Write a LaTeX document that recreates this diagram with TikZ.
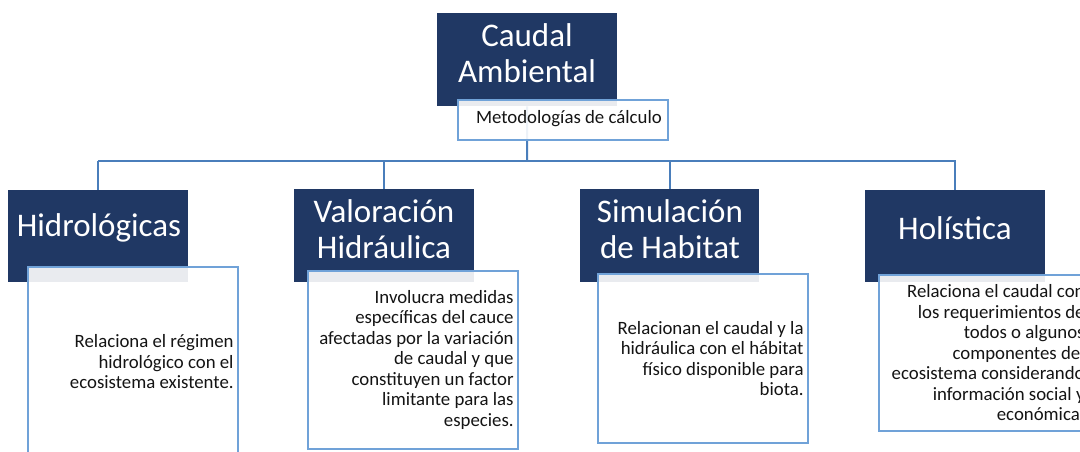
\documentclass[tikz,border=0pt]{standalone}
\usepackage{fontspec}
\setmainfont{Carlito}
\definecolor{navy}{RGB}{32,56,100}
\definecolor{linkblue}{RGB}{74,126,187}
\definecolor{boxblue}{RGB}{112,162,216}
\definecolor{txt}{RGB}{20,20,20}
\tikzset{
  titlebox/.style={fill=navy, draw=none},
  descbox/.style={fill=white, fill opacity=0.9, draw=boxblue, draw opacity=1, line width=1.8pt},
  titletext/.style={text=white, font=\fontsize{33}{35.5}\selectfont, align=center, inner sep=0pt},
  desctext/.style={text=txt, font=\fontsize{18.8}{20.5}\selectfont, align=right, inner sep=0pt, anchor=east},
  link/.style={draw=linkblue, line width=2pt},
}
\begin{document}
\begin{tikzpicture}[x=1pt,y=-1pt]
\useasboundingbox[fill=white] (0,0) rectangle (1080,452);
\begin{scope}
\clip (0,0) rectangle (1080,452);
% top
\node[titlebox, minimum width=180, minimum height=93, anchor=north west, inner sep=0pt] (top) at (437,13) {};
\node[titletext] (toptxt) at (527,53) {Caudal\\Ambiental};
% connectors
\coordinate (hub) at (527,161);
\coordinate (h1) at (98,161);
\coordinate (h4) at (956,161);
\draw[link] (top.south) -- (hub);
\draw[link] (h1) -- (h4);
% title boxes
\node[titlebox, minimum width=180, minimum height=92, anchor=north west, inner sep=0pt] (t1) at (8,190) {};
\node[titlebox, minimum width=180, minimum height=93, anchor=north west, inner sep=0pt] (t2) at (294,189) {};
\node[titlebox, minimum width=179, minimum height=93, anchor=north west, inner sep=0pt] (t3) at (580,189) {};
\node[titlebox, minimum width=180, minimum height=92, anchor=north west, inner sep=0pt] (t4) at (865,190) {};
\draw[link] (t1.north |- h1) -- (t1.north);
\draw[link] (t2.north |- h1) -- (t2.north);
\draw[link] (t3.north |- h1) -- (t3.north);
\draw[link] (t4.north |- h1) -- (t4.north);
\node[titletext] (t1txt) at (99,228) {Hidrológicas};
\node[titletext] (t2txt) at (384,229) {Valoración\\Hidráulica};
\node[titletext] (t3txt) at (670,229) {Simulación\\de Habitat};
\node[titletext] (t4txt) at (955,228) {Holística};
% metodologias
\node[descbox, minimum width=210, minimum height=40, anchor=north west, inner sep=0pt] (met) at (457,99) {};
\node[desctext] (mettxt) at (662,119) {Metodologías de cálculo};
% description boxes
\node[descbox, minimum width=210, minimum height=204, anchor=north west, inner sep=0pt] (d1) at (27,266) {};
\node[descbox, minimum width=210, minimum height=178, anchor=north west, inner sep=0pt] (d2) at (307,270) {};
\node[descbox, minimum width=210, minimum height=169, anchor=north west, inner sep=0pt] (d3) at (597,273) {};
\node[descbox, minimum width=210, minimum height=156, anchor=north west, inner sep=0pt] (d4) at (878,274) {};
\node[desctext] (d1txt) at ([xshift=-5]d1.east |- 0,362) {Relaciona el régimen\\hidrológico con el\\ecosistema existente.};
\node[desctext] (d2txt) at ([xshift=-5]d2.east) {Involucra medidas\\específicas del cauce\\afectadas por la variación\\de caudal y que\\constituyen un factor\\limitante para las\\especies.};
\node[desctext] (d3txt) at ([xshift=-5]d3.east) {Relacionan el caudal y la\\hidráulica con el hábitat\\físico disponible para\\biota.};
\node[desctext] (d4txt) at ([xshift=-5]d4.east) {Relaciona el caudal con\\los requerimientos de\\todos o algunos\\componentes del\\ecosistema considerando\\información social y\\económica.};
\end{scope}
\end{tikzpicture}
\end{document}
